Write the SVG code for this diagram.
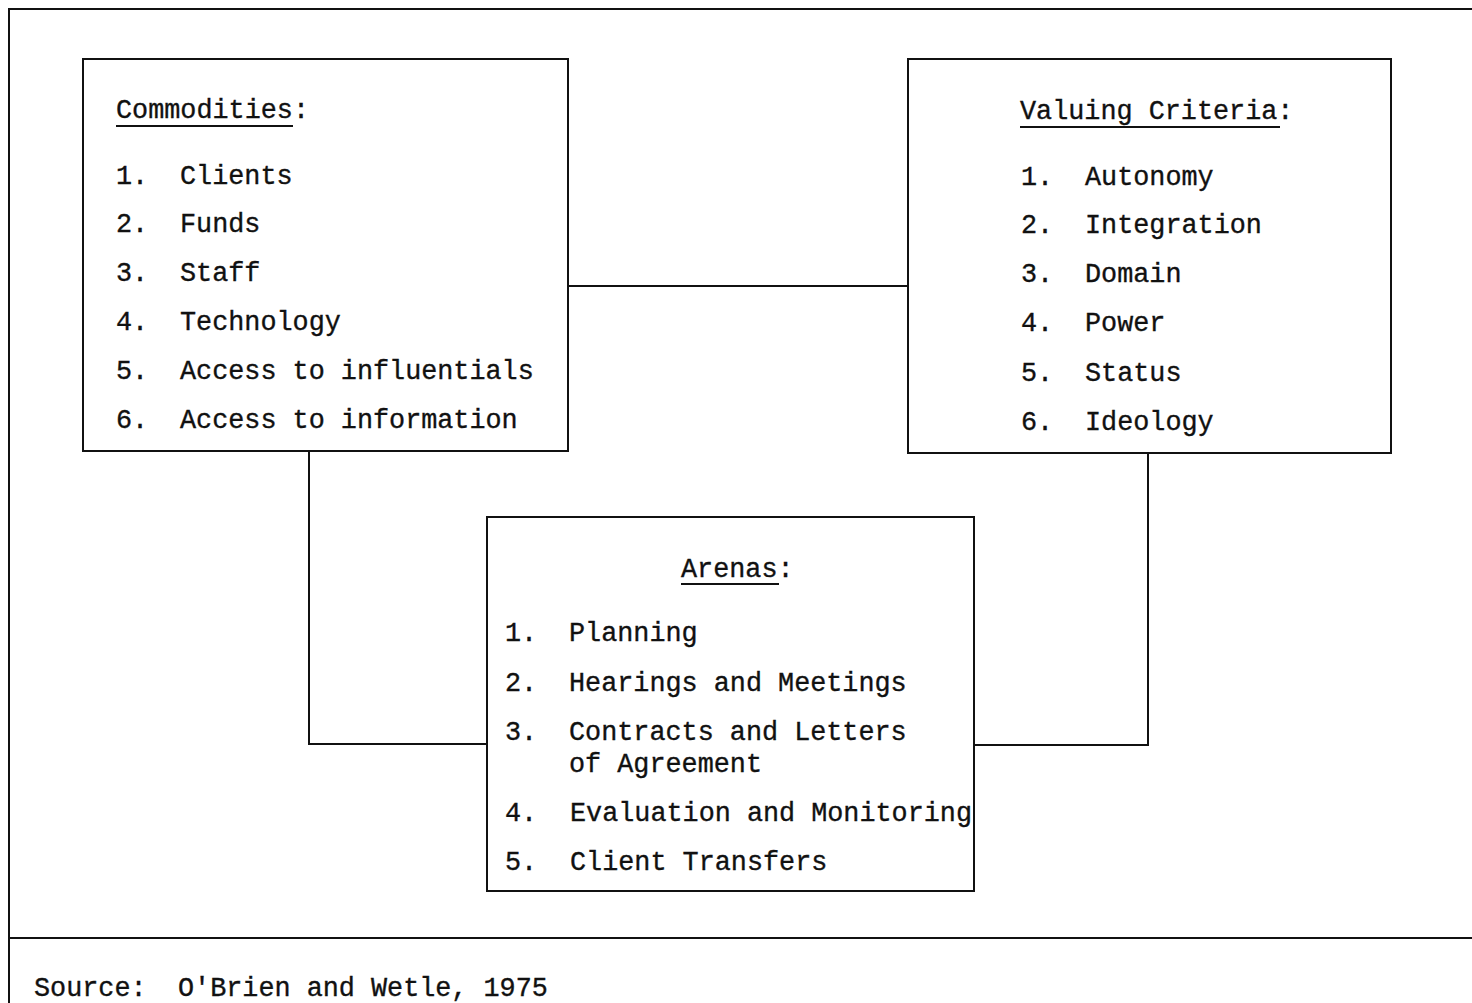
<svg xmlns="http://www.w3.org/2000/svg" width="1472" height="1003" viewBox="0 0 1472 1003">
<style>
.t{font-family:"Liberation Mono","Courier New",monospace;font-size:26.8px;fill:#111;stroke:#111;stroke-width:0.35}
.b{fill:#fff;stroke:#111;stroke-width:2}
.l{fill:none;stroke:#111;stroke-width:2}
</style>
<rect width="1472" height="1003" fill="#fff"/>
<g id="frame">
<polyline class="l" points="1472,9 9,9 9,1003"/>
<line class="l" x1="9" y1="938" x2="1472" y2="938"/>
</g>
<g id="connectors">
<line class="l" x1="568" y1="286" x2="908" y2="286"/>
<polyline class="l" points="309,451 309,744 487,744"/>
<polyline class="l" points="1148,453 1148,745 974,745"/>
</g>
<g id="commodities">
<rect class="b" x="83" y="59" width="485" height="392"/>
<text class="t" x="116" y="118">Commodities:</text>
<line class="l" x1="116" y1="126" x2="293" y2="126"/>
<text class="t" x="116" y="184">1.</text><text class="t" x="180" y="184">Clients</text>
<text class="t" x="116" y="232">2.</text><text class="t" x="180" y="232">Funds</text>
<text class="t" x="116" y="281">3.</text><text class="t" x="180" y="281">Staff</text>
<text class="t" x="116" y="330">4.</text><text class="t" x="180" y="330">Technology</text>
<text class="t" x="116" y="379">5.</text><text class="t" x="180" y="379">Access to influentials</text>
<text class="t" x="116" y="428">6.</text><text class="t" x="180" y="428">Access to information</text>
</g>
<g id="valuing">
<rect class="b" x="908" y="59" width="483" height="394"/>
<text class="t" x="1020" y="119">Valuing Criteria:</text>
<line class="l" x1="1020" y1="127" x2="1280" y2="127"/>
<text class="t" x="1021" y="185">1.</text><text class="t" x="1085" y="185">Autonomy</text>
<text class="t" x="1021" y="233">2.</text><text class="t" x="1085" y="233">Integration</text>
<text class="t" x="1021" y="282">3.</text><text class="t" x="1085" y="282">Domain</text>
<text class="t" x="1021" y="331">4.</text><text class="t" x="1085" y="331">Power</text>
<text class="t" x="1021" y="381">5.</text><text class="t" x="1085" y="381">Status</text>
<text class="t" x="1021" y="430">6.</text><text class="t" x="1085" y="430">Ideology</text>
</g>
<g id="arenas">
<rect class="b" x="487" y="517" width="487" height="374"/>
<text class="t" x="681" y="577">Arenas:</text>
<line class="l" x1="681" y1="584" x2="779" y2="584"/>
<text class="t" x="505" y="641">1.</text><text class="t" x="569" y="641">Planning</text>
<text class="t" x="505" y="691">2.</text><text class="t" x="569" y="691">Hearings and Meetings</text>
<text class="t" x="505" y="740">3.</text><text class="t" x="569" y="740">Contracts and Letters</text>
<text class="t" x="569" y="772">of Agreement</text>
<text class="t" x="505" y="821">4.</text><text class="t" x="570" y="821">Evaluation and Monitoring</text>
<text class="t" x="505" y="870">5.</text><text class="t" x="570" y="870">Client Transfers</text>
</g>
<g id="source">
<text class="t" x="34" y="996">Source:</text><text class="t" x="178" y="996">O'Brien and Wetle, 1975</text>
</g>
</svg>
